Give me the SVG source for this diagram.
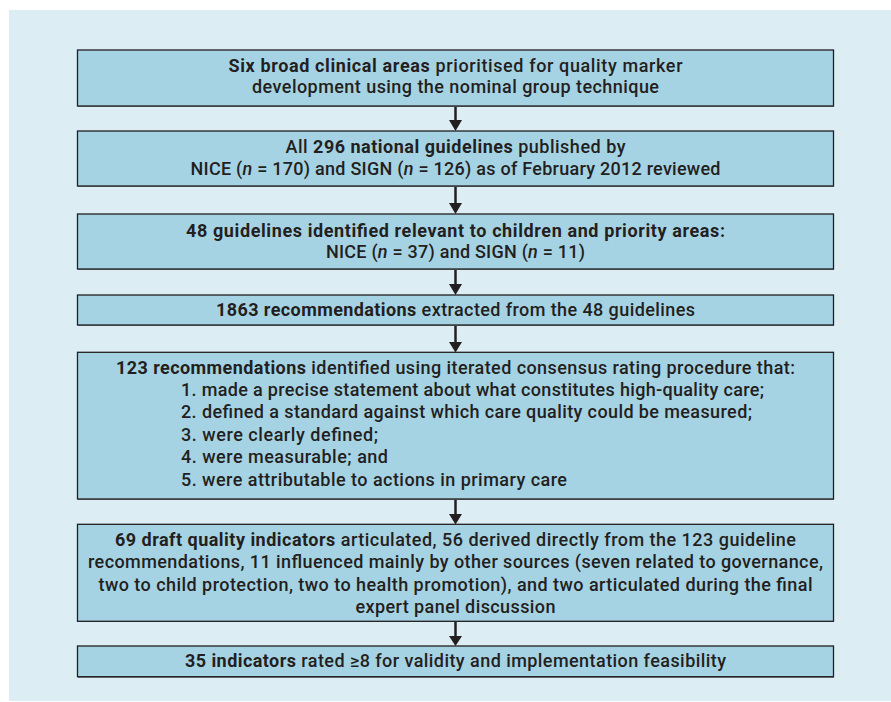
<svg xmlns="http://www.w3.org/2000/svg" width="891" height="702" viewBox="0 0 891 702">
<style>
.bg{fill:#dcedf4}
.box{fill:#a6d3e4;stroke:#231f20;stroke-width:1.3}
.sh{fill:#7d8a90}
.t{font-family:Roboto,"Liberation Sans",sans-serif;font-size:18px;font-weight:500;fill:#231f20}
.c{text-anchor:middle}
.b{font-weight:700}
.i{font-style:italic}
.arr{stroke:#231f20;stroke-width:2.5;fill:none}
.hd{fill:#231f20}
</style>
<rect class="bg" x="9" y="10" width="882" height="691"/>
<g id="connectors">
<line class="arr" x1="455.5" y1="106" x2="455.5" y2="122"/>
<polygon class="hd" points="449,120 462,120 455.5,131"/>
<line class="arr" x1="455.5" y1="186" x2="455.5" y2="205"/>
<polygon class="hd" points="449,203 462,203 455.5,214"/>
<line class="arr" x1="455.5" y1="269" x2="455.5" y2="286"/>
<polygon class="hd" points="449,284 462,284 455.5,295"/>
<line class="arr" x1="455.5" y1="325" x2="455.5" y2="344"/>
<polygon class="hd" points="449,342 462,342 455.5,352.5"/>
<line class="arr" x1="455.5" y1="499" x2="455.5" y2="516"/>
<polygon class="hd" points="449,514 462,514 455.5,524.5"/>
<line class="arr" x1="455.5" y1="621" x2="455.5" y2="638"/>
<polygon class="hd" points="449,636 462,636 455.5,646"/>
</g>
<g id="n1">
<rect class="sh" x="78" y="51" width="756" height="56"/>
<rect class="box" x="77.5" y="50" width="756" height="56"/>
<text class="t c" x="455.5" y="71.7" textLength="454"><tspan class="b">Six broad clinical areas</tspan> prioritised for quality marker</text>
<text class="t c" x="455.5" y="93.3" textLength="407">development using the nominal group technique</text>
</g>
<g id="n2">
<rect class="sh" x="78" y="132" width="756" height="55"/>
<rect class="box" x="77.5" y="131" width="756" height="55"/>
<text class="t c" x="455.5" y="153.3" textLength="340">All <tspan class="b">296 national guidelines</tspan> published by</text>
<text class="t c" x="455.5" y="175" textLength="530">NICE (<tspan class="i">n</tspan> = 170) and SIGN (<tspan class="i">n</tspan> = 126) as of February 2012 reviewed</text>
</g>
<g id="n3">
<rect class="sh" x="78" y="215" width="756" height="55"/>
<rect class="box" x="77.5" y="214" width="756" height="55"/>
<text class="t c b" x="455.5" y="236.7" textLength="539">48 guidelines identified relevant to children and priority areas:</text>
<text class="t c" x="455.5" y="258.3" textLength="259">NICE (<tspan class="i">n</tspan> = 37) and SIGN (<tspan class="i">n</tspan> = 11)</text>
</g>
<g id="n4">
<rect class="sh" x="78" y="296" width="756" height="30"/>
<rect class="box" x="77.5" y="295" width="756" height="30"/>
<text class="t c" x="455.5" y="316.3" textLength="479"><tspan class="b">1863 recommendations</tspan> extracted from the 48 guidelines</text>
</g>
<g id="n5">
<rect class="sh" x="78" y="353" width="756" height="147"/>
<rect class="box" x="77.5" y="352.3" width="756" height="146.7"/>
<text class="t c" x="455.5" y="374" textLength="679"><tspan class="b">123 recommendations</tspan> identified using iterated consensus rating procedure that:</text>
<text class="t" x="181" y="396" textLength="583">1. made a precise statement about what constitutes high-quality care;</text>
<text class="t" x="181" y="418.3" textLength="571">2. defined a standard against which care quality could be measured;</text>
<text class="t" x="181" y="440.7" textLength="197">3. were clearly defined;</text>
<text class="t" x="181" y="463.3" textLength="207">4. were measurable; and</text>
<text class="t" x="181" y="485.7" textLength="386">5. were attributable to actions in primary care</text>
</g>
<g id="n6">
<rect class="sh" x="78" y="525" width="756" height="97"/>
<rect class="box" x="77.5" y="524.3" width="756" height="97"/>
<text class="t c" x="455.5" y="545.7" textLength="681"><tspan class="b">69 draft quality indicators</tspan> articulated, 56 derived directly from the 123 guideline</text>
<text class="t c" x="455.5" y="568.3" textLength="735">recommendations, 11 influenced mainly by other sources (seven related to governance,</text>
<text class="t c" x="455.5" y="590.7" textLength="714">two to child protection, two to health promotion), and two articulated during the final</text>
<text class="t c" x="455.5" y="613.3" textLength="200">expert panel discussion</text>
</g>
<g id="n7">
<rect class="sh" x="78" y="647" width="756" height="31"/>
<rect class="box" x="77.5" y="646" width="756" height="30.7"/>
<text class="t c" x="455.5" y="667.3" textLength="541"><tspan class="b">35 indicators</tspan> rated ≥8 for validity and implementation feasibility</text>
</g>
</svg>
